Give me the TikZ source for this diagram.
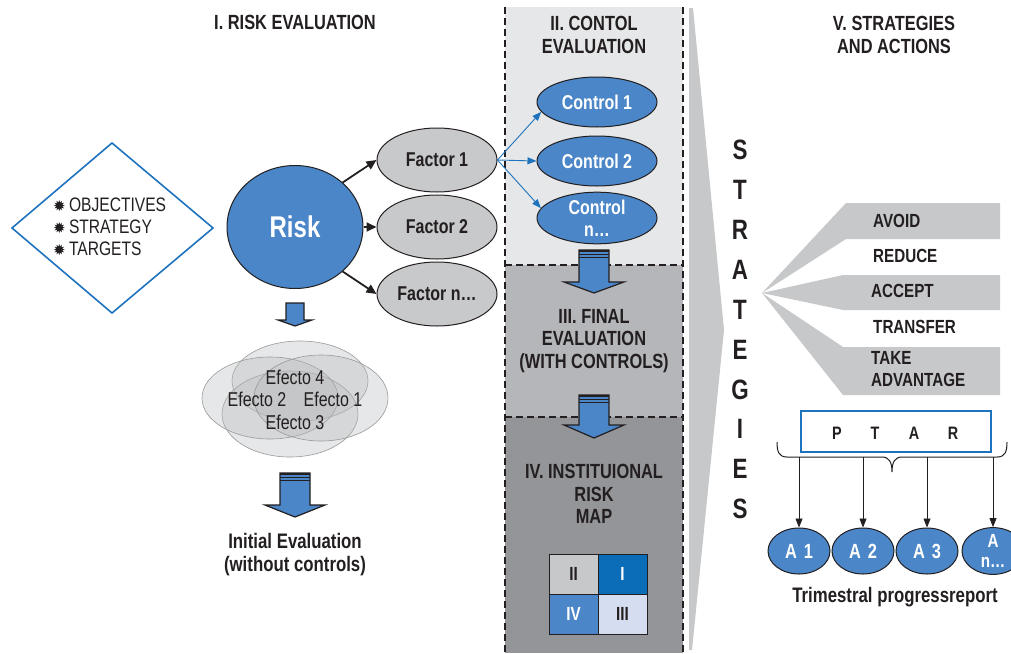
\documentclass[tikz,border=0pt]{standalone}
\usepackage{fontspec}
\setmainfont{Liberation Sans}[FakeStretch=0.8]
\newfontfamily\symfont{DejaVu Sans}
\usetikzlibrary{arrows.meta,shapes.geometric}

\definecolor{ink}{HTML}{231F20}
\definecolor{riskblue}{HTML}{4A86C8}
\definecolor{deepblue}{HTML}{0B6DB7}
\definecolor{lineblue}{HTML}{1E73BE}
\definecolor{paleblue}{HTML}{D5DEF0}
\definecolor{panelA}{HTML}{E6E7E8}
\definecolor{panelB}{HTML}{B5B6B9}
\definecolor{panelC}{HTML}{949598}
\definecolor{wedgegray}{HTML}{C7C8CA}
\definecolor{factorgray}{HTML}{C8C9CB}
\definecolor{cloudgray}{HTML}{B8BABC}

% block arrow pointing down: centre x, top y, half shaft, head y, half head, tip y
\newcommand\downblock[6]{%
  \filldraw[fill=riskblue, draw=ink, line width=1.2pt, line join=miter]
    (#1-#3,#2) -- (#1+#3,#2) -- (#1+#3,#4) -- (#1+#5,#4) -- (#1,#6)
    -- (#1-#5,#4) -- (#1-#3,#4) -- cycle;}
% the same arrow with the banded cap
\newcommand\bandedblock[6]{%
  \downblock{#1}{#2}{#3}{#4}{#5}{#6}
  \draw[ink, line width=1.6pt] (#1-#3,#2+1) -- (#1+#3,#2+1);
  \draw[ink, line width=0.9pt] (#1-#3,#2+4) -- (#1+#3,#2+4);
  \draw[ink, line width=0.9pt] (#1-#3,#2+7) -- (#1+#3,#2+7);}

\newcommand\starbullet{{\symfont\fontsize{15}{15}\selectfont ✹}}

\tikzset{
  heading/.style={font=\bfseries\fontsize{20.5}{22.5}\selectfont, text=ink, align=center, inner sep=0pt},
  factor/.style={ellipse, draw=ink, line width=1pt, fill=factorgray, minimum width=120pt,
    minimum height=64pt, inner sep=0pt, font=\bfseries\fontsize{20}{22}\selectfont, text=ink},
  control/.style={ellipse, draw=ink, line width=1pt, fill=riskblue, minimum width=120pt,
    minimum height=50pt, inner sep=0pt, font=\bfseries\fontsize{20}{22}\selectfont, text=white, align=center},
  action/.style={ellipse, draw=ink, line width=1pt, fill=riskblue, minimum width=62pt,
    minimum height=46pt, inner sep=0pt, font=\bfseries\fontsize{20.5}{20}\selectfont, text=white, align=center},
  cell/.style={rectangle, draw=ink, line width=1pt, minimum width=49pt, minimum height=40pt,
    inner sep=0pt, font=\bfseries\fontsize{19}{20}\selectfont},
  cloud/.style={ellipse, draw=gray!80, line width=0.6pt, fill=cloudgray, fill opacity=0.35,
    inner sep=0pt},
  effect/.style={font=\fontsize{20}{22}\selectfont, text=ink, inner sep=0pt},
  option/.style={anchor=west, font=\bfseries\fontsize{19}{22}\selectfont, text=ink, inner sep=0pt, align=left},
  stratletter/.style={font=\bfseries\fontsize{28}{30}\selectfont, text=ink, inner sep=0pt},
  ptarletter/.style={font=\bfseries\fontsize{18}{20}\selectfont, text=ink, inner sep=0pt},
  panelrule/.style={draw=ink, line width=1.6pt, dash pattern=on 7pt off 4pt},
  blackarrow/.style={draw=ink, line width=1.8pt, -{Triangle[length=10pt,width=9pt]}},
  bluearrow/.style={draw=lineblue, line width=0.9pt, -{Triangle[length=9pt,width=7pt]}},
  thinarrow/.style={draw=ink, line width=0.8pt, -{Triangle[length=9pt,width=7pt]}},
}

\begin{document}
\begin{tikzpicture}[x=1pt, y=-1pt]
\useasboundingbox (0,0) rectangle (1011,653);

% ---- control / evaluation / map column
\fill[panelA] (505,7) rectangle (683,265);
\fill[panelB] (505,265) rectangle (683,417);
\fill[panelC] (505,417) rectangle (683,653);
\draw[panelrule] (505,7) -- (505,653);
\draw[panelrule] (683,7) -- (683,653);
\draw[panelrule] (505,265) -- (683,265);
\draw[panelrule] (505,417) -- (683,417);

% ---- large strategies chevron
\fill[wedgegray] (689,8) -- (693,8) -- (724,330) -- (692,650) -- (689,650) -- cycle;

% ---- headings
\node[heading] (h1) at (295,22) {I. RISK EVALUATION};
\node[heading] (h2) at (594,35) {II. CONTOL\\EVALUATION};
\node[heading] (h5) at (894,35) {V. STRATEGIES\\AND ACTIONS};
\node[heading] (h3) at (594,341) {III. FINAL\\EVALUATION\\(WITH CONTROLS)};
\node[heading] (h4) at (594,494) {IV. INSTITUIONAL\\RISK\\MAP};

% ---- goals diamond
\draw[lineblue, line width=1.6pt, line join=miter] (12,228) -- (112,143) -- (213,228) -- (112,313) -- cycle;
\node[anchor=west, align=left, inner sep=0pt, text=ink, font=\fontsize{19.5}{22}\selectfont] (goals) at (53,227)
  {\starbullet\,OBJECTIVES\\
   \starbullet\,STRATEGY\\
   \starbullet\,TARGETS};

% ---- risk and its factors
\node[ellipse, draw=ink, line width=1pt, fill=riskblue, minimum width=136pt, minimum height=123pt,
  inner sep=0pt, text=white, font=\bfseries\fontsize{30}{32}\selectfont] (risk) at (295,227) {Risk};
\node[factor] (f1) at (437,160) {Factor 1};
\node[factor] (f2) at (437,227) {Factor 2};
\node[factor] (f3) at (437,294) {Factor n\dots};
\draw[blackarrow] (risk.43) -- (f1.west);
\draw[blackarrow] (risk.east) -- (f2.west);
\draw[blackarrow] (risk.-43) -- (f3.west);

% ---- controls
\node[control] (c1) at (597,102) {Control 1};
\node[control] (c2) at (597,161) {Control 2};
\node[control] (c3) at (597,218) {Control\\n\dots};
\draw[bluearrow] (f1.east) -- (c1.190);
\draw[bluearrow] (f1.east) -- (c2.west);
\draw[bluearrow] (f1.east) -- (c3.170);

% ---- effects cloud
\node[cloud, minimum width=136pt, minimum height=80pt] (e1) at (300,381) {};
\node[cloud, minimum width=136pt, minimum height=86pt] (e2) at (290,414) {};
\node[cloud, minimum width=136pt, minimum height=82pt] (e3) at (270,398) {};
\node[cloud, minimum width=134pt, minimum height=86pt] (e4) at (321,398) {};
\node[effect] (t4) at (295,377) {Efecto 4};
\node[effect] (t2) at (257,399) {Efecto 2};
\node[effect] (t1) at (333,399) {Efecto 1};
\node[effect] (t3) at (295,422) {Efecto 3};

% ---- block arrows
\downblock{295}{303}{9}{320}{17}{326}
\bandedblock{295}{473}{15}{505}{30}{517}
\bandedblock{594}{250}{15}{282}{30}{293}
\bandedblock{594}{395}{15}{425}{30}{438}

\node[heading, font=\bfseries\fontsize{21}{23}\selectfont] (initial) at (295,555)
  {Initial Evaluation\\(without controls)};

% ---- risk map
\node[cell, fill=wedgegray, text=ink] (m2) at (573.5,574) {II};
\node[cell, fill=deepblue, text=white] (m1) at (622.5,574) {I};
\node[cell, fill=riskblue, text=white] (m4) at (573.5,614) {IV};
\node[cell, fill=paleblue, text=ink] (m3) at (622.5,614) {III};

% ---- strategies lettering
\foreach \l [count=\i from 0] in {S,T,R,A,T,E,G,I,E,S}
  \node[stratletter] (sl\i) at (740,150+39.9*\i) {\l};

% ---- strategy options
\fill[wedgegray] (762,293) -- (846,203) -- (1000,203) -- (1000,239) -- (846,239) -- cycle;
\fill[wedgegray] (762,293) -- (843,275) -- (1000,275) -- (1000,310) -- (843,310) -- cycle;
\fill[wedgegray] (762,293) -- (843,347) -- (1000,347) -- (1000,395) -- (843,395) -- cycle;
\node[option] (avoid) at (873,221) {AVOID};
\node[option] (reduce) at (873,256) {REDUCE};
\node[option] (accept) at (871,291) {ACCEPT};
\node[option] (transfer) at (873,327) {TRANSFER};
\node[option] (take) at (871,369) {TAKE\\ADVANTAGE};

% ---- PTAR and actions
\node[draw=lineblue, line width=1.3pt, minimum width=190pt, minimum height=41pt, inner sep=0pt] (ptar) at (896,431.5) {};
\node[ptarletter] (pP) at (837,433) {P};
\node[ptarletter] (pT) at (875,433) {T};
\node[ptarletter] (pA) at (914,433) {A};
\node[ptarletter] (pR) at (953,433) {R};

\draw[ink, line width=1pt] (777,442) .. controls (777,452) and (779,457) .. (787,457) -- (882,457)
  .. controls (889,457) and (892,462) .. (892,472)
  .. controls (892,462) and (895,457) .. (902,457) -- (997,457)
  .. controls (1005,457) and (1007,452) .. (1007,442);
\coordinate (b1) at (799,457);
\coordinate (b2) at (863,457);
\coordinate (b3) at (927,457);
\coordinate (b4) at (993,457);

\node[action] (a1) at (799,551) {A\,\,1};
\node[action] (a2) at (863,551) {A\,\,2};
\node[action] (a3) at (927,551) {A\,\,3};
\node[action, font=\bfseries\fontsize{19}{20}\selectfont] (a4) at (993,551) {A\\n\dots};
\draw[thinarrow] (b1) -- (a1);
\draw[thinarrow] (b2) -- (a2);
\draw[thinarrow] (b3) -- (a3);
\draw[thinarrow] (b4) -- (a4);

\node[heading, font=\bfseries\fontsize{21}{23}\selectfont] (report) at (895,597) {Trimestral progressreport};
\end{tikzpicture}
\end{document}
